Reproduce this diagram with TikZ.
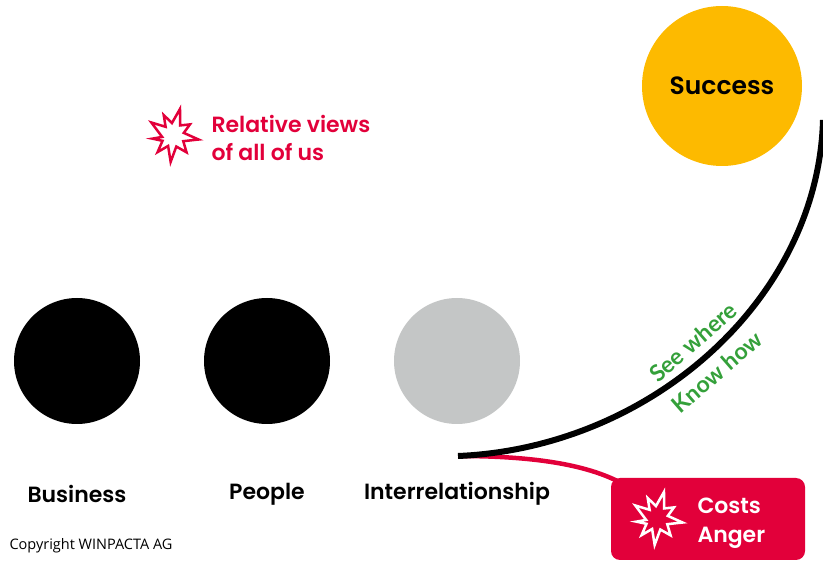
\documentclass[tikz,border=0pt]{standalone}
\usepackage{fontspec}
\setmainfont{Poppins}[BoldFont={Poppins SemiBold}]
\newfontfamily\copyfont{Open Sans}
\newfontfamily\greenfont{Lato}
\usetikzlibrary{positioning, backgrounds}

\definecolor{wpred}{HTML}{E2003A}
\definecolor{wpyellow}{HTML}{FDBA00}
\definecolor{wpgray}{HTML}{C4C6C6}
\definecolor{wpgreen}{HTML}{34A03A}

\tikzset{
	dot/.style={circle, inner sep=0pt, minimum size=126pt},
	lbl/.style={font=\bfseries\fontsize{22}{28}\selectfont},
	costbox/.style={fill=wpred, rounded corners=9pt, minimum width=194pt, minimum height=82pt, inner sep=0pt},
	burst/.pic={
		\draw[line join=miter] (95:27) -- (74:12) -- (52:22) -- (31:12) -- (10:26) -- (-11:11)
			-- (-32:20) -- (-53:12) -- (-75:27) -- (-95:12) -- (-115:22) -- (-132:11)
			-- (-150:25) -- (170:11) -- (170:21) -- (151:12) -- (132:23) -- (114:12) -- cycle;
	}
}

\begin{document}
\begin{tikzpicture}[x=1pt, y=-1pt]
	\useasboundingbox (0,0) rectangle (823,561); % Rand
	\clip (0,0) rectangle (823,561);
	
	% drei Kreise
	\node[dot, fill=black] (business) at (77,361) {};
	\node[dot, fill=black] (people) at (267,361) {};
	\node[dot, fill=wpgray] (inter) at (457,361) {};
	
	\node[lbl] at (77,494) {Business};
	\node[lbl] at (267,494) {People};
	\node[lbl] at (457,494) {Interrelationship};
	
	\node[dot, fill=wpyellow, minimum size=160pt, lbl, font=\bfseries\fontsize{25}{28}\selectfont] (success) at (722,86) {Success};
	
	% Relative views
	\pic[wpred, line width=2.5pt] at (173,135) {burst};
	\node[wpred, lbl, anchor=west, align=left] (views) at (208,138) {Relative views\\of all of us};
	
	% Kosten
	\node[costbox] (costs) at (708,519) {};
	\pic[white, line width=2.5pt] at (657,518) {burst};
	\node[white, lbl, anchor=west, align=left, font=\bfseries\fontsize{22}{29}\selectfont] (anger) at (694,523) {Costs\\Anger};
	
	% Kurven
	\coordinate (start) at (458,456);
	\coordinate (rim) at (823,120);
	\begin{scope}[on background layer]
		\draw[wpred, line width=4.5pt] (start) .. controls (540,456) and (590,466) .. ([xshift=12pt, yshift=-6pt]costs.north west);
	\end{scope}
	\draw[line width=6pt] (start) .. controls (650,448) and (818,300) .. (rim);
	
	\node[wpgreen, font=\greenfont\bfseries\fontsize{23}{26}\selectfont, rotate=41] (see) at (693,342) {See where};
	\node[wpgreen, font=\greenfont\bfseries\fontsize{23}{26}\selectfont, rotate=41] (know) at (717,372) {Know how};
	
	\node[font=\copyfont\fontsize{14.5}{16}\selectfont, anchor=west] (copy) at (6,546) {Copyright WINPACTA AG};
\end{tikzpicture}
\end{document}
